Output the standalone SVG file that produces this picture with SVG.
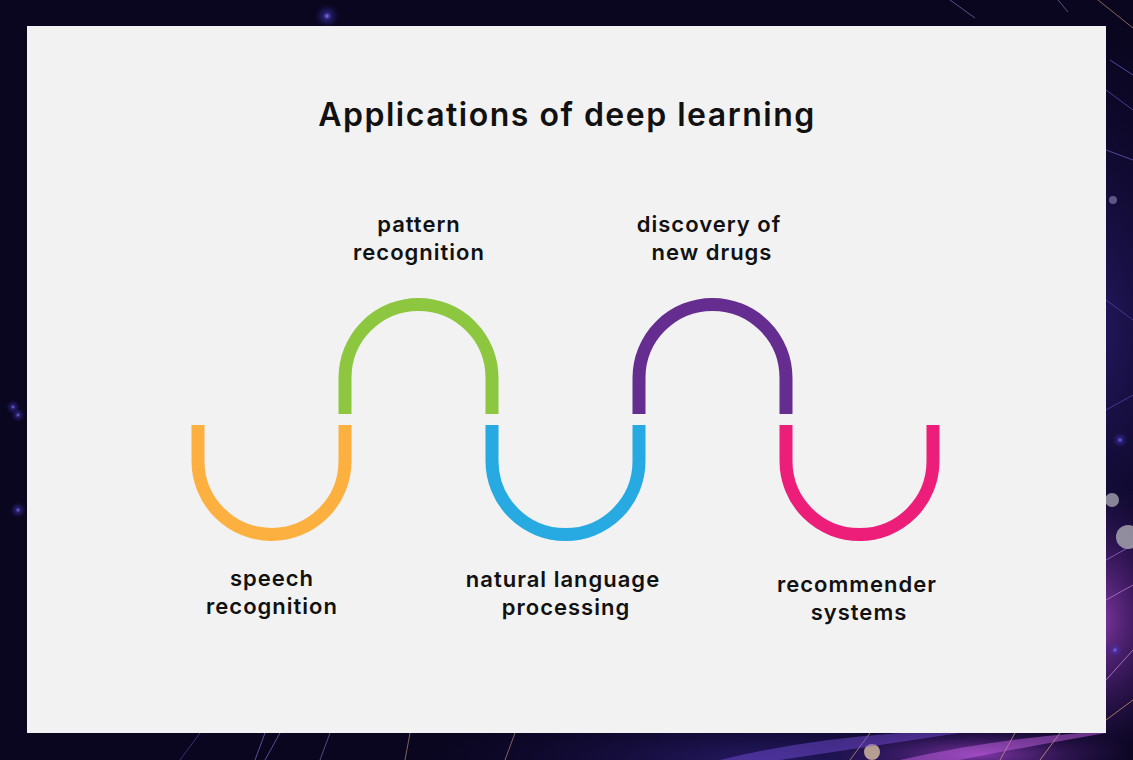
<svg xmlns="http://www.w3.org/2000/svg" width="1133" height="760" viewBox="0 0 1133 760">
  <defs>
    <radialGradient id="glow" cx="50%" cy="50%" r="50%">
      <stop offset="0" stop-color="#8f86ff" stop-opacity="0.9"/>
      <stop offset="0.3" stop-color="#4a3cc8" stop-opacity="0.45"/>
      <stop offset="1" stop-color="#2a1f8a" stop-opacity="0"/>
    </radialGradient>
    <radialGradient id="haze" cx="50%" cy="50%" r="50%">
      <stop offset="0" stop-color="#3b2a9a" stop-opacity="0.55"/>
      <stop offset="1" stop-color="#1a1050" stop-opacity="0"/>
    </radialGradient>
    <radialGradient id="pinkhaze" cx="50%" cy="50%" r="50%">
      <stop offset="0" stop-color="#b04ad8" stop-opacity="0.7"/>
      <stop offset="1" stop-color="#4a1d8a" stop-opacity="0"/>
    </radialGradient>
    <style>
      .arc { fill: none; stroke-width: 13; stroke-linecap: butt; }
      .lbl { font-family: "Inter", "Liberation Sans", sans-serif; font-weight: 600; font-size: 22px; letter-spacing: 1px; fill: #111111; text-anchor: middle; font-variant-ligatures: none; }
      .title { font-family: "Inter", "Liberation Sans", sans-serif; font-weight: 600; font-size: 32px; letter-spacing: 1.5px; fill: #111111; text-anchor: middle; font-variant-ligatures: none; }
      .ray { fill: none; stroke-width: 1; }
    </style>
  </defs>

  <!-- background -->
  <rect x="0" y="0" width="1133" height="760" fill="#0a0620"/>
  <ellipse cx="1090" cy="330" rx="140" ry="300" fill="url(#haze)"/>
  <ellipse cx="760" cy="760" rx="330" ry="60" fill="url(#haze)"/>
  <ellipse cx="1100" cy="620" rx="90" ry="140" fill="url(#pinkhaze)"/>
  <ellipse cx="980" cy="755" rx="160" ry="30" fill="url(#pinkhaze)"/>
  <circle cx="327" cy="16" r="12" fill="url(#glow)"/>
  <circle cx="13" cy="407" r="7" fill="url(#glow)"/>
  <circle cx="18" cy="415" r="7" fill="url(#glow)"/>
  <circle cx="18" cy="510" r="8" fill="url(#glow)"/>
  <circle cx="1120" cy="440" r="8" fill="url(#glow)"/>
  <circle cx="1115" cy="650" r="8" fill="url(#glow)"/>
  <g class="ray">
    <path d="M950 0 L975 18" stroke="#8a86c8" opacity="0.6"/>
    <path d="M1058 0 L1068 12" stroke="#8a86c8" opacity="0.6"/>
    <path d="M1098 0 L1133 28" stroke="#c09070" opacity="0.7"/>
    <path d="M1110 60 L1133 75" stroke="#6a62d8" opacity="0.7"/>
    <path d="M1106 90 L1133 110" stroke="#6a62d8" opacity="0.6"/>
    <path d="M1106 150 L1133 160" stroke="#7a70e8" opacity="0.6"/>
    <path d="M1106 300 L1133 320" stroke="#6a62d8" opacity="0.5"/>
    <path d="M1106 410 L1133 395" stroke="#6a62d8" opacity="0.5"/>
    <path d="M1106 560 L1133 545" stroke="#a070e0" opacity="0.7"/>
    <path d="M1106 600 L1133 585" stroke="#c080e0" opacity="0.7"/>
    <path d="M1106 680 L1133 650" stroke="#d090e0" opacity="0.7"/>
    <path d="M1106 720 L1133 700" stroke="#e0a070" opacity="0.7"/>
    <path d="M180 760 L200 733" stroke="#7060d0" opacity="0.5"/>
    <path d="M255 760 L265 733" stroke="#8a80e0" opacity="0.6"/>
    <path d="M265 760 L280 733" stroke="#8a80e0" opacity="0.6"/>
    <path d="M320 760 L330 733" stroke="#9a90e0" opacity="0.5"/>
    <path d="M405 760 L410 733" stroke="#d0a080" opacity="0.6"/>
    <path d="M505 760 L515 733" stroke="#d0a080" opacity="0.6"/>
    <path d="M850 760 L870 733" stroke="#d0a080" opacity="0.7"/>
    <path d="M1000 760 L1015 733" stroke="#d0a080" opacity="0.7"/>
    <path d="M1040 760 L1060 733" stroke="#e0b080" opacity="0.7"/>
  </g>
  <circle cx="1112" cy="500" r="7" fill="#9c9aa8" opacity="0.85"/>
  <circle cx="1128" cy="537" r="12" fill="#a4a2ae" opacity="0.85"/>
  <circle cx="1113" cy="200" r="4" fill="#8c88b8" opacity="0.6"/>
  <circle cx="872" cy="752" r="8" fill="#d8c0a0" opacity="0.8"/>
  <path d="M720 760 Q800 740 900 733 L960 733 Q880 745 780 760 Z" fill="#7a50e0" opacity="0.45"/>
  <path d="M900 760 Q990 740 1080 733 L1106 733 Q1020 748 960 760 Z" fill="#c060e0" opacity="0.5"/>

  <!-- card -->
  <rect x="27" y="26" width="1079" height="707" fill="#f2f2f2"/>

  <!-- title -->
  <g id="title">
    <text class="title" x="567" y="126">Applications of deep learning</text>
  </g>

  <!-- nodes -->
  <g id="speech-recognition">
    <path class="arc" stroke="#fbb040" d="M198 425 V461 A73.5 73.5 0 0 0 345 461 V425"/>
    <text class="lbl" x="272" y="586">speech</text>
    <text class="lbl" x="272" y="614">recognition</text>
  </g>
  <g id="pattern-recognition">
    <path class="arc" stroke="#8dc63f" d="M345 414 V378 A73.5 73.5 0 0 1 492 378 V414"/>
    <text class="lbl" x="419" y="232">pattern</text>
    <text class="lbl" x="419" y="260">recognition</text>
  </g>
  <g id="natural-language-processing">
    <path class="arc" stroke="#27aae1" d="M492 425 V461 A73.5 73.5 0 0 0 639 461 V425"/>
    <text class="lbl" x="563" y="587">natural language</text>
    <text class="lbl" x="566" y="615">processing</text>
  </g>
  <g id="discovery-of-new-drugs">
    <path class="arc" stroke="#662d91" d="M639 414 V378 A73.5 73.5 0 0 1 786 378 V414"/>
    <text class="lbl" x="709" y="232">discovery of</text>
    <text class="lbl" x="712" y="260">new drugs</text>
  </g>
  <g id="recommender-systems">
    <path class="arc" stroke="#ed1e79" d="M786 425 V461 A73.5 73.5 0 0 0 933 461 V425"/>
    <text class="lbl" x="857" y="592">recommender</text>
    <text class="lbl" x="859" y="620">systems</text>
  </g>

  <g id="connectors"></g>
</svg>
